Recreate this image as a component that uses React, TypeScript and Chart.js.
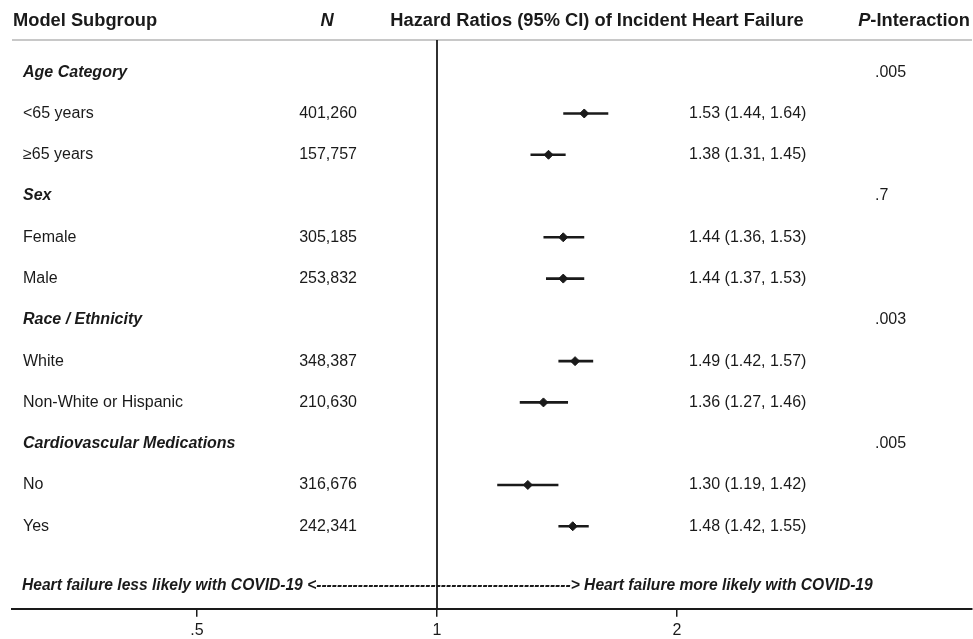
import React, { useEffect, useRef } from "react";
import { Chart, registerables } from "chart.js";

Chart.register(...registerables);

// ---------- data ----------
const rowLabels = [
  "Age Category",
  "<65 years",
  "≥65 years",
  "Sex",
  "Female",
  "Male",
  "Race / Ethnicity",
  "White",
  "Non-White or Hispanic",
  "Cardiovascular Medications",
  "No",
  "Yes",
];
const isGroupRow = [true, false, false, true, false, false, true, false, false, true, false, false];
const nValues = ["", "401,260", "157,757", "", "305,185", "253,832", "", "348,387", "210,630", "", "316,676", "242,341"];
const hrValues: (number | null)[] = [null, 1.53, 1.38, null, 1.44, 1.44, null, 1.49, 1.36, null, 1.3, 1.48];
const ciLower: (number | null)[] = [null, 1.44, 1.31, null, 1.36, 1.37, null, 1.42, 1.27, null, 1.19, 1.42];
const ciUpper: (number | null)[] = [null, 1.64, 1.45, null, 1.53, 1.53, null, 1.57, 1.46, null, 1.42, 1.55];
const pInteraction = [".005", "", "", ".7", "", "", ".003", "", "", ".005", "", ""];
const headers = ["Model Subgroup", "N", "Hazard Ratios (95% CI) of Incident Heart Failure", "P-Interaction"];
const xTickValues = [0.5, 1, 2];
const xTickLabels = [".5", "1", "2"];
const footerLeft = "Heart failure less likely with COVID-19 <";
const footerDashes = "-------------------------------------------------";
const footerRight = "> Heart failure more likely with COVID-19";

// ---------- styling / layout ----------
const FONT = '"Liberation Sans", Arial, Helvetica, sans-serif';
const INK = "#1a1a1a";
const X_MIN = Math.pow(2, (12 - 437) / 240);
const X_MAX = Math.pow(2, (972 - 437) / 240);
const Y_MIN = -0.78;
const Y_MAX = 13.0;
const HEADER_ROW = -1.24;
const FOOTER_ROW = 12.43;
const BODY = 16;
const HEAD = 18.3;

const tablePlugin = {
  id: "forestTable",
  beforeDatasetsDraw(chart: any) {
    const { ctx, chartArea, scales } = chart;
    const xs = scales.x;
    ctx.save();
    ctx.strokeStyle = "#c8c8c8";
    ctx.lineWidth = 2;
    ctx.beginPath();
    ctx.moveTo(chartArea.left, chartArea.top);
    ctx.lineTo(chartArea.right, chartArea.top);
    ctx.stroke();
    const x1 = xs.getPixelForValue(1);
    ctx.strokeStyle = INK;
    ctx.lineWidth = 1.8;
    ctx.beginPath();
    ctx.moveTo(x1, chartArea.top);
    ctx.lineTo(x1, chartArea.bottom);
    ctx.stroke();
    ctx.restore();
  },
  afterDraw(chart: any) {
    const { ctx, scales } = chart;
    const ys = scales.y;
    ctx.save();
    ctx.fillStyle = INK;
    ctx.textBaseline = "middle";

    const hy = ys.getPixelForValue(HEADER_ROW);
    ctx.font = `bold ${HEAD}px ${FONT}`;
    ctx.textAlign = "left";
    ctx.fillText(headers[0], 13, hy);
    ctx.font = `italic bold ${HEAD}px ${FONT}`;
    ctx.textAlign = "center";
    ctx.fillText(headers[1], 327, hy);
    ctx.font = `bold ${HEAD}px ${FONT}`;
    ctx.fillText(headers[2], 597, hy);
    ctx.textAlign = "left";
    ctx.font = `italic bold ${HEAD}px ${FONT}`;
    const pW = ctx.measureText("P").width;
    ctx.font = `bold ${HEAD}px ${FONT}`;
    const restW = ctx.measureText(headers[3].slice(1)).width;
    const px0 = 914 - (pW + restW) / 2;
    ctx.font = `italic bold ${HEAD}px ${FONT}`;
    ctx.fillText("P", px0, hy);
    ctx.font = `bold ${HEAD}px ${FONT}`;
    ctx.fillText(headers[3].slice(1), px0 + pW, hy);

    rowLabels.forEach((label, i) => {
      const y = ys.getPixelForValue(i);
      ctx.textAlign = "left";
      ctx.font = isGroupRow[i] ? `italic bold ${BODY}px ${FONT}` : `${BODY}px ${FONT}`;
      ctx.fillText(label, 23, y);
      ctx.font = `${BODY}px ${FONT}`;
      if (nValues[i]) {
        ctx.textAlign = "right";
        ctx.fillText(nValues[i], 357, y);
      }
      const hr = hrValues[i];
      const lo = ciLower[i];
      const hi = ciUpper[i];
      if (hr != null && lo != null && hi != null) {
        ctx.textAlign = "left";
        ctx.fillText(`${hr.toFixed(2)} (${lo.toFixed(2)}, ${hi.toFixed(2)})`, 689, y);
      }
      if (pInteraction[i]) {
        ctx.textAlign = "left";
        ctx.fillText(pInteraction[i], 875, y);
      }
    });

    const fy = ys.getPixelForValue(FOOTER_ROW);
    ctx.font = `italic bold 15.6px ${FONT}`;
    ctx.textAlign = "left";
    ctx.fillText(footerLeft + footerDashes + footerRight, 22, fy);
    ctx.restore();
  },
};

export default function App() {
  const canvasRef = useRef<HTMLCanvasElement | null>(null);

  useEffect(() => {
    if (!canvasRef.current) return;

    const ciDatasets: any[] = [];
    hrValues.forEach((hr, i) => {
      const lo = ciLower[i];
      const hi = ciUpper[i];
      if (hr == null || lo == null || hi == null) return;
      ciDatasets.push({
        type: "line",
        data: [
          { x: lo, y: i },
          { x: hi, y: i },
        ],
        borderColor: INK,
        borderWidth: 2.6,
        pointRadius: 0,
        showLine: true,
        order: 2,
      });
    });

    const pointData = hrValues
      .map((hr, i) => (hr == null ? null : { x: hr, y: i }))
      .filter((p) => p !== null);

    const chart = new Chart(canvasRef.current, {
      type: "scatter",
      data: {
        datasets: [
          {
            data: pointData as any,
            pointStyle: "rectRot",
            pointRadius: 4.5,
            backgroundColor: INK,
            borderColor: INK,
            borderWidth: 1,
            order: 1,
          },
          ...ciDatasets,
        ],
      },
      options: {
        animation: false,
        responsive: true,
        maintainAspectRatio: false,
        events: [],
        layout: { autoPadding: false, padding: { left: 12, right: 1, top: 40, bottom: -5 } },
        plugins: {
          legend: { display: false },
          tooltip: { enabled: false },
        },
        scales: {
          x: {
            type: "logarithmic",
            min: X_MIN,
            max: X_MAX,
            afterBuildTicks: (scale: any) => {
              scale.ticks = xTickValues.map((v) => ({ value: v }));
            },
            ticks: {
              autoSkip: false,
              maxRotation: 0,
              padding: 4,
              color: INK,
              font: { family: FONT, size: BODY },
              callback: (value: any) => {
                const idx = xTickValues.indexOf(Number(value));
                return idx >= 0 ? xTickLabels[idx] : "";
              },
            },
            grid: {
              drawOnChartArea: false,
              drawTicks: true,
              tickLength: 8,
              color: INK,
              lineWidth: 1.5,
            },
            border: { display: true, color: INK, width: 2 },
          },
          y: {
            type: "linear",
            display: false,
            reverse: true,
            min: Y_MIN,
            max: Y_MAX,
          },
        },
      },
      plugins: [tablePlugin],
    });

    return () => chart.destroy();
  }, []);

  return (
    <div style={{ position: "fixed", left: 0, top: 0, width: 973, height: 639, background: "#fff" }}>
      <canvas ref={canvasRef} />
    </div>
  );
}
